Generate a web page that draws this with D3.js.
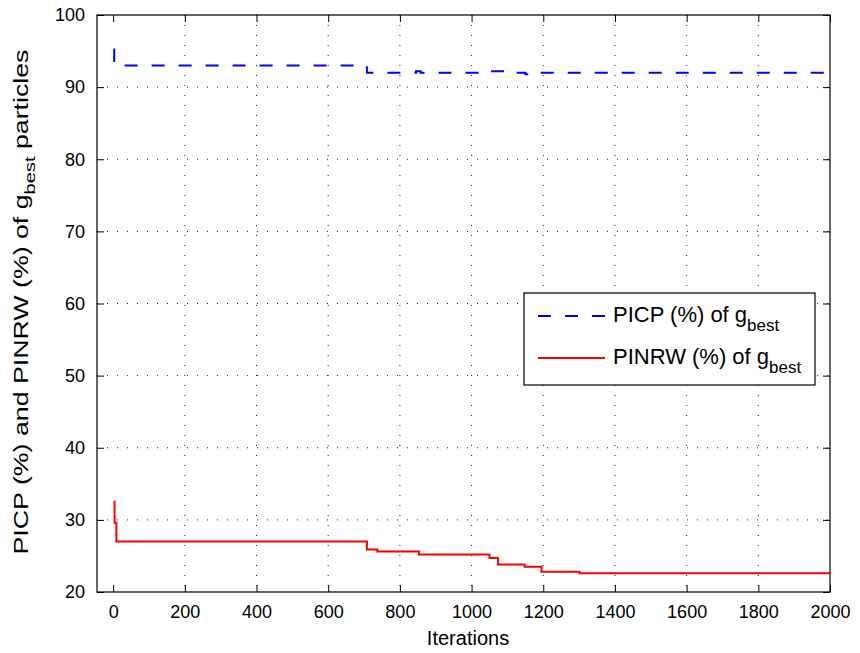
<!DOCTYPE html>
<html>
<head>
<meta charset="utf-8">
<script src="https://cdn.jsdelivr.net/npm/d3@7"></script>
<style>
body { margin: 0; background: #fff; }
text { font-family: "Liberation Sans", Arial, sans-serif; fill: #000; }
</style>
</head>
<body>
<svg width="860" height="653"></svg>
<script>
// step breakpoints
const picpIter = [1, 3, 708, 845, 858, 1050, 1095, 1150, 1162, 2000];
const picpVal = [95.2, 93, 92, 92.2, 92, 92.2, 92, 91.8, 92, 92];
const pinrwIter = [1, 4, 9, 708, 737, 853, 1050, 1074, 1148, 1195, 1301, 2000];
const pinrwVal = [32.5, 29.6, 27, 25.9, 25.6, 25.2, 24.7, 23.8, 23.5, 22.8, 22.6, 22.6];
const xTicks = [0, 200, 400, 600, 800, 1000, 1200, 1400, 1600, 1800, 2000];
const yTicks = [20, 30, 40, 50, 60, 70, 80, 90, 100];

const svg = d3.select("svg");
const pl = 97, pr = 830, pt = 15, pb = 592;

const x = d3.scaleLinear().domain([-45, 2000]).range([pl, pr]);
const y = d3.scaleLinear().domain([20, 100]).range([pb, pt]);

// dotted grid
svg.append("g")
	.selectAll("line")
	.data(xTicks.filter((d) => d > 0 && d < 2000))
	.enter()
	.append("line")
	.attr("x1", (d) => x(d)).attr("x2", (d) => x(d))
	.attr("y1", pt).attr("y2", pb)
	.attr("stroke", "#222").attr("stroke-dasharray", "1,9");
svg.append("g")
	.selectAll("line")
	.data(yTicks.filter((d) => d > 20 && d < 100))
	.enter()
	.append("line")
	.attr("x1", pl).attr("x2", pr)
	.attr("y1", (d) => y(d)).attr("y2", (d) => y(d))
	.attr("stroke", "#222").attr("stroke-dasharray", "1,9");

// axes with inward ticks on all four sides
const fmt = d3.format("d");
const ax = (g) => g.call((s) => s.select(".domain").remove()).selectAll("text").style("font-size", "18px");
svg.append("g").attr("transform", `translate(0,${pb})`)
	.call(d3.axisBottom(x).tickValues(xTicks).tickFormat(fmt).tickSizeInner(-7).tickSizeOuter(0).tickPadding(13))
	.call(ax);
svg.append("g").attr("transform", `translate(0,${pt})`)
	.call(d3.axisTop(x).tickValues(xTicks).tickSizeInner(-7).tickSizeOuter(0).tickFormat(""))
	.call(ax);
svg.append("g").attr("transform", `translate(${pl},0)`)
	.call(d3.axisLeft(y).tickValues(yTicks).tickFormat(fmt).tickSizeInner(-7).tickSizeOuter(0).tickPadding(12))
	.call(ax);
svg.append("g").attr("transform", `translate(${pr},0)`)
	.call(d3.axisRight(y).tickValues(yTicks).tickSizeInner(-7).tickSizeOuter(0).tickFormat(""))
	.call(ax);
svg.selectAll(".tick line").attr("stroke", "#000");

svg.append("rect")
	.attr("x", pl).attr("y", pt)
	.attr("width", pr - pl).attr("height", pb - pt)
	.attr("fill", "none").attr("stroke", "#000").attr("stroke-width", 1.2);

// series
const line = d3.line().x((d) => x(d[0])).y((d) => y(d[1])).curve(d3.curveStepAfter);

svg.append("path")
	.datum(d3.zip(pinrwIter, pinrwVal))
	.attr("d", line)
	.attr("fill", "none").attr("stroke", "#ff0000").attr("stroke-width", 2);

svg.append("path")
	.datum(d3.zip(picpIter, picpVal))
	.attr("d", line)
	.attr("fill", "none").attr("stroke", "#0000ff").attr("stroke-width", 2)
	.attr("stroke-dasharray", "13,14");

// axis titles
svg.append("text")
	.attr("x", 468).attr("y", 645)
	.attr("text-anchor", "middle").style("font-size", "20px")
	.text("Iterations");

const yl = svg.append("text")
	.attr("text-anchor", "middle").style("font-size", "20px");
yl.append("tspan").text("PICP (%) and PINRW (%) of g");
yl.append("tspan").attr("dy", 7).style("font-size", "15px").text("best");
yl.append("tspan").attr("dy", -7).text(" particles");
// the original label is drawn wider than its font, stretch it to fit
const ylLen = yl.node().getComputedTextLength();
yl.attr("transform", `translate(28,302) rotate(-90) scale(${505 / ylLen},1)`);

// legend
const lg = svg.append("g").attr("transform", "translate(524,293)");
lg.append("rect").attr("width", 291).attr("height", 92)
	.attr("fill", "#fff").attr("stroke", "#000").attr("stroke-width", 1.2);
const items = [
	{ name: "PICP (%) of g", color: "#0000ff", dash: "13,14" },
	{ name: "PINRW (%) of g", color: "#ff0000", dash: null }
];
items.forEach((it, i) => {
	const ly = 23 + i * 42;
	lg.append("line").attr("x1", 14).attr("x2", 81).attr("y1", ly).attr("y2", ly)
		.attr("stroke", it.color).attr("stroke-width", 2)
		.attr("stroke-dasharray", it.dash);
	const t = lg.append("text").attr("x", 89).attr("y", ly + 6).style("font-size", "22px");
	t.append("tspan").text(it.name);
	t.append("tspan").attr("dy", 9).style("font-size", "17px").text("best");
});
</script>
</body>
</html>
